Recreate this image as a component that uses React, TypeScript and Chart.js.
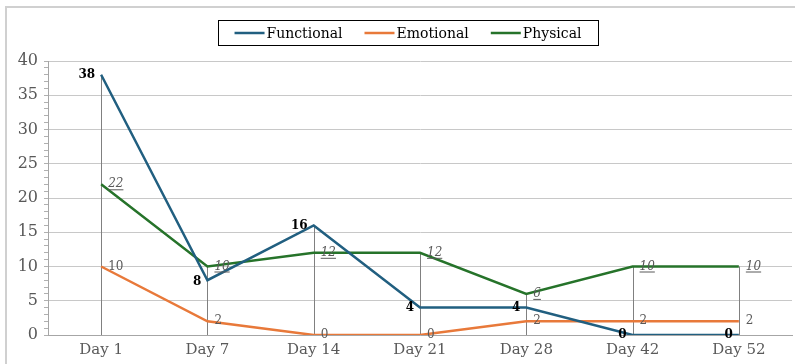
import React, { useEffect, useRef } from "react";
import { Chart, registerables } from "chart.js";

Chart.register(...registerables);

const categories = ["Day 1", "Day 7", "Day 14", "Day 21", "Day 28", "Day 42", "Day 52"];
const functional = [38, 8, 16, 4, 4, 0, 0];
const emotional = [10, 2, 0, 0, 2, 2, 2];
const physical = [22, 10, 12, 12, 6, 10, 10];
const yMin = 0;
const yMax = 40;
const yMajorStep = 5;

const FONT = "'DejaVu Serif', serif";

const framePlugin = {
  id: "frame",
  beforeDraw(chart: any) {
    const ctx = chart.ctx;
    ctx.save();
    ctx.strokeStyle = "#d0d0d0";
    ctx.lineWidth = 2;
    ctx.strokeRect(6, 7, chart.width + 20, chart.height + 20);
    ctx.restore();
  },
};

const dropLinesPlugin = {
  id: "dropLines",
  beforeDatasetsDraw(chart: any) {
    const ctx = chart.ctx;
    const xs = chart.scales.x;
    const ys = chart.scales.y;
    ctx.save();
    ctx.strokeStyle = "#808080";
    ctx.lineWidth = 1;
    categories.forEach((_, i) => {
      const vals = chart.data.datasets.map((d: any) => d.data[i]);
      const max = Math.max(...vals);
      const x = Math.round(xs.getPixelForValue(i)) + 0.5;
      ctx.beginPath();
      ctx.moveTo(x, ys.getPixelForValue(max));
      ctx.lineTo(x, ys.getPixelForValue(yMin));
      ctx.stroke();
    });
    ctx.restore();
  },
};

const labelsPlugin = {
  id: "valueLabels",
  afterDatasetsDraw(chart: any) {
    const ctx = chart.ctx;
    ctx.save();
    chart.data.datasets.forEach((ds: any, di: number) => {
      const meta = chart.getDatasetMeta(di);
      meta.data.forEach((pt: any, i: number) => {
        const txt = String(ds.data[i]);
        ctx.textBaseline = "middle";
        if (di === 0) {
          ctx.font = "bold 12px " + FONT;
          ctx.fillStyle = "#000000";
          ctx.textAlign = "right";
          ctx.fillText(txt, pt.x - 6, pt.y + (i === 1 ? 2 : 0));
        } else if (di === 1) {
          ctx.font = "12px " + FONT;
          ctx.fillStyle = "#595959";
          ctx.textAlign = "left";
          ctx.fillText(txt, pt.x + 7, pt.y);
        } else {
          ctx.font = "italic 12px " + FONT;
          ctx.fillStyle = "#595959";
          ctx.textAlign = "left";
          const tx = pt.x + 7;
          ctx.fillText(txt, tx, pt.y);
          const w = ctx.measureText(txt).width;
          ctx.strokeStyle = "#595959";
          ctx.lineWidth = 1;
          ctx.beginPath();
          ctx.moveTo(tx, pt.y + 5.5);
          ctx.lineTo(tx + w, pt.y + 5.5);
          ctx.stroke();
        }
      });
    });
    ctx.restore();
  },
};

const legendPlugin = {
  id: "boxLegend",
  afterDraw(chart: any) {
    const ctx = chart.ctx;
    const left = 218;
    const right = 598;
    const top = 20;
    const bottom = 45;
    ctx.save();
    ctx.strokeStyle = "#000000";
    ctx.lineWidth = 1;
    ctx.strokeRect(left + 0.5, top + 0.5, right - left, bottom - top);
    ctx.font = "14px " + FONT;
    ctx.textBaseline = "middle";
    ctx.textAlign = "left";
    const sample = 30;
    const gap = 2;
    const itemGap = 22;
    const ds = chart.data.datasets;
    const widths = ds.map((d: any) => sample + gap + ctx.measureText(d.label).width);
    const total = widths.reduce((a: number, b: number) => a + b, 0) + itemGap * (ds.length - 1);
    let x = (left + right) / 2 - total / 2;
    const cy = (top + bottom) / 2 + 0.5;
    ds.forEach((d: any, i: number) => {
      ctx.strokeStyle = d.borderColor;
      ctx.lineWidth = 2.5;
      ctx.beginPath();
      ctx.moveTo(x, cy);
      ctx.lineTo(x + sample, cy);
      ctx.stroke();
      ctx.fillStyle = "#000000";
      ctx.fillText(d.label, x + sample + gap, cy + 1);
      x += widths[i] + itemGap;
    });
    ctx.restore();
  },
};

export default function App() {
  const ref = useRef<HTMLCanvasElement>(null);
  useEffect(() => {
    if (!ref.current) return;
    const chart = new Chart(ref.current, {
      type: "line",
      data: {
        labels: categories,
        datasets: [
          { label: "Functional", data: functional, borderColor: "#215F80", backgroundColor: "#215F80", borderWidth: 2.5, pointRadius: 0, tension: 0 },
          { label: "Emotional", data: emotional, borderColor: "#E8793A", backgroundColor: "#E8793A", borderWidth: 2.5, pointRadius: 0, tension: 0 },
          { label: "Physical", data: physical, borderColor: "#26732A", backgroundColor: "#26732A", borderWidth: 2.5, pointRadius: 0, tension: 0 },
        ],
      },
      options: {
        animation: false,
        responsive: false,
        maintainAspectRatio: false,
        layout: { padding: { top: 61, right: 3, left: 0, bottom: 0 } },
        plugins: { legend: { display: false }, tooltip: { enabled: false } },
        scales: {
          x: {
            offset: true,
            grid: { display: false, drawTicks: false },
            border: { display: true, color: "#a6a6a6", width: 1 },
            ticks: { font: { family: FONT, size: 15 }, color: "#595959", padding: 6, maxRotation: 0 },
            afterFit: (s: any) => { s.height = 29; },
          },
          y: {
            min: yMin,
            max: yMax,
            grid: {
              color: (c: any) => (c.tick && c.tick.value % yMajorStep === 0 ? "#c8c8c8" : "rgba(0,0,0,0)"),
              tickColor: "#b0b0b0",
              tickLength: 4,
              drawTicks: true,
            },
            border: { display: true, color: "#a6a6a6", width: 1 },
            ticks: {
              stepSize: 1,
              autoSkip: false,
              font: { family: FONT, size: 16 },
              color: "#595959",
              padding: 6,
              callback: (v: any) => (Number(v) % yMajorStep === 0 ? String(v) : ""),
            },
            afterFit: (s: any) => { s.width = 48; },
          },
        },
      },
      plugins: [framePlugin, dropLinesPlugin, labelsPlugin, legendPlugin],
    });
    return () => chart.destroy();
  }, []);
  return (
    <div style={{ position: "absolute", left: 0, top: 0, width: 795, height: 364, background: "#fff" }}>
      <canvas ref={ref} width={795} height={364} style={{ width: 795, height: 364 }} />
    </div>
  );
}
